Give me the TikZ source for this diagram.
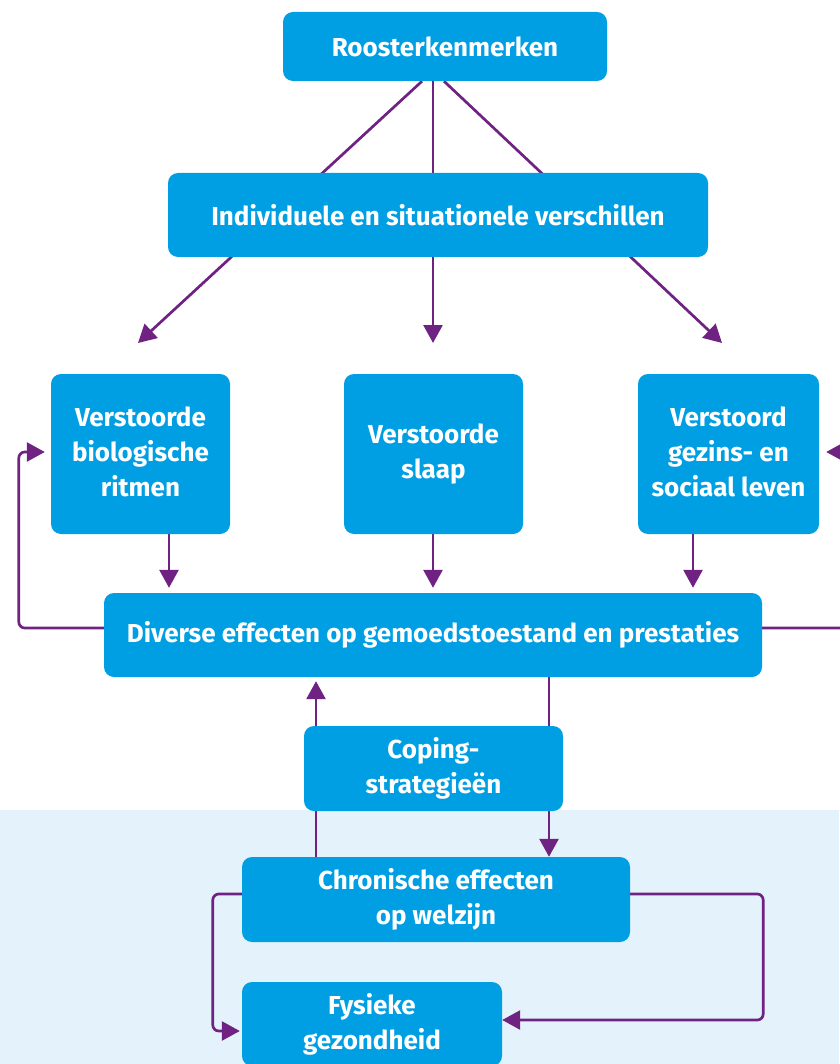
\documentclass[tikz,border=0pt]{standalone}
\usepackage{fontspec}
\setmainfont{Fira Sans}
\usetikzlibrary{arrows.meta,calc}
\pgfdeclarelayer{back}
\pgfdeclarelayer{bg}
\pgfsetlayers{back,bg,main}
\definecolor{boxblue}{HTML}{009FE3}
\definecolor{linepurple}{HTML}{6F2282}
\definecolor{lightbg}{HTML}{E4F3FB}
\newcommand{\raisedlines}[1]{\raisebox{5pt}{\begin{tabular}{@{}c@{}}#1\end{tabular}}}
\begin{document}
\begin{tikzpicture}[x=1pt,y=-1pt,
  box/.style={fill=boxblue, rounded corners=10pt, text=white,
    font=\bfseries\fontsize{26}{35}\selectfont, align=center, inner sep=0pt},
  conn/.style={draw=linepurple, line width=2.7pt},
  arr/.style={conn, -{Triangle[length=18pt,width=19pt]}}]
\useasboundingbox (0,0) rectangle (839,1064);
\clip (0,0) rectangle (839,1064);
\begin{pgfonlayer}{back}
\fill[lightbg] (0,810) rectangle (839,1064);
\end{pgfonlayer}
\node[box, minimum width=324pt, minimum height=69pt] (R) at (445,46.5) {Roosterkenmerken};
\node[box, minimum width=540pt, minimum height=84pt] (I) at (438,215) {Individuele en situationele verschillen};
\node[box, minimum width=179pt, minimum height=160pt] (V1) at (140.5,454) {\raisedlines{Verstoorde\\biologische\\ritmen}};
\node[box, minimum width=179pt, minimum height=160pt] (V2) at (433.5,454) {Verstoorde\\slaap};
\node[box, minimum width=181pt, minimum height=160pt] (V3) at (728.5,454) {\raisedlines{Verstoord\\gezins- en\\sociaal leven}};
\node[box, minimum width=658pt, minimum height=84pt] (D) at (433,635) {Diverse effecten op gemoedstoestand en prestaties};
\node[box, minimum width=259pt, minimum height=85pt] (C) at (433.5,768.5) {Coping-\\strategieën};
\node[box, minimum width=388pt, minimum height=85pt] (Ch) at (436,899.5) {Chronische effecten\\op welzijn};
\node[box, minimum width=260pt, minimum height=84pt] (F) at (372,1024) {Fysieke\\gezondheid};
\coordinate (t1) at (138,343);
\coordinate (t2) at (433,343);
\coordinate (t3) at (722,343);
\begin{pgfonlayer}{bg}
\draw[arr] ([xshift=-23pt]R.south) -- (t1);
\draw[arr] ([xshift=-12pt]R.south) -- (t2);
\draw[arr] ([xshift=-1pt]R.south) -- (t3);
\draw[arr, shorten >=5pt] ([xshift=28.5pt]V1.south) -- ([xshift=28.5pt]V1.south |- D.north);
\draw[arr, shorten >=5pt] ([xshift=-0.5pt]V2.south) -- ([xshift=-0.5pt]V2.south |- D.north);
\draw[arr, shorten >=5pt] ([xshift=-35.5pt]V3.south) -- ([xshift=-35.5pt]V3.south |- D.north);
\draw[arr, rounded corners=6pt, shorten >=6pt] ([yshift=7pt]D.west) -- ++(-85,0) |- ([yshift=2pt]V1.west);
\draw[arr, rounded corners=6pt, shorten >=7pt] ([yshift=7pt]D.east) -- ++(100,0) |- ([yshift=2pt]V3.east);
\draw[arr, shorten >=4pt] ([xshift=-120pt]Ch.north) -- ([xshift=-120pt]Ch.north |- D.south);
\draw[arr] ([xshift=116pt]D.south) -- ([xshift=116pt]D.south |- Ch.north);
\draw[arr, rounded corners=6pt, shorten >=2pt] ([yshift=5.5pt]Ch.west) -- ++(-29,0) |- ([yshift=-7pt]F.west);
\draw[arr, rounded corners=6pt] ([yshift=5.5pt]Ch.east) -- ++(133,0) |- ([yshift=4pt]F.east);
\end{pgfonlayer}
\end{tikzpicture}
\end{document}
